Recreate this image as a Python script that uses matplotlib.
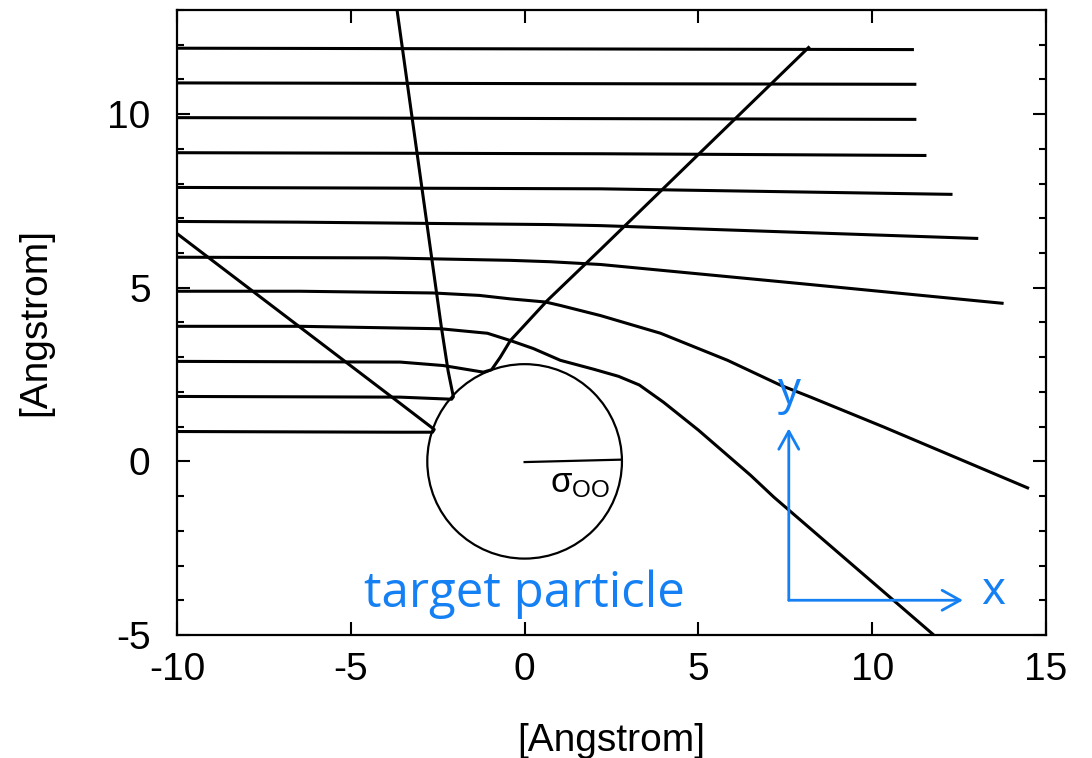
import matplotlib
matplotlib.use("Agg")
import matplotlib.pyplot as plt
from matplotlib.patches import Circle
from matplotlib.ticker import MultipleLocator

plt.rcParams['font.family'] = ['Liberation Sans', 'DejaVu Sans']
plt.rcParams['mathtext.fontset'] = 'custom'
plt.rcParams['mathtext.rm'] = 'Liberation Sans'
plt.rcParams['mathtext.it'] = 'Liberation Sans'

# ---- data (Angstrom) ----
t1_x = [-10, 11.2]
t1_y = [11.9, 11.86]
t2_x = [-10, 11.27]
t2_y = [10.9, 10.86]
t3_x = [-10, 11.27]
t3_y = [9.9, 9.85]
t4_x = [-10, 2.19, 11.56]
t4_y = [8.89, 8.86, 8.81]
t5_x = [-10, 2.19, 12.31]
t5_y = [7.89, 7.85, 7.69]
t6_x = [-10, -6.5, 0.74, 2.19, 13.05]
t6_y = [6.91, 6.89, 6.82, 6.79, 6.42]
t7_x = [-10, -4, -0.41, 0.74, 2.19, 7.94, 13.78]
t7_y = [5.88, 5.86, 5.79, 5.75, 5.67, 5.12, 4.55]
t8_x = [-10, -6.46, -2.63, -1.3, -0.41, 0.6, 1.03, 2.18, 3.91, 5.84, 7.37, 8.23, 10.33, 14.51]
t8_y = [4.9, 4.9, 4.85, 4.78, 4.68, 4.59, 4.49, 4.2, 3.69, 2.91, 2.19, 1.85, 0.99, -0.78]
t9_x = [-10, -6.46, -2.43, -1.07, -0.41, 0.25, 1.03, 2.0, 2.7, 3.3, 4.0, 5.0, 6.5, 7.17, 11.77]
t9_y = [3.89, 3.89, 3.82, 3.69, 3.48, 3.25, 2.91, 2.65, 2.45, 2.2, 1.7, 0.9, -0.4, -1.03, -5.0]
t10_x = [-10, -3.58, -2.34, -1.19, -0.95, -0.70, -0.41, 0.66, 2.18, 8.2]
t10_y = [2.88, 2.86, 2.76, 2.57, 2.64, 3.0, 3.48, 4.64, 6.1, 11.95]
t11_x = [-10, -3.58, -2.1, -2.05, -2.2, -2.4, -3.67]
t11_y = [1.87, 1.85, 1.79, 1.86, 2.6, 3.9, 13.0]
t12_x = [-10, -3.58, -2.65, -2.6, -3.58, -10]
t12_y = [0.86, 0.84, 0.84, 0.92, 1.67, 6.56]

traj_x = [t1_x, t2_x, t3_x, t4_x, t5_x, t6_x, t7_x, t8_x, t9_x, t10_x, t11_x, t12_x]
traj_y = [t1_y, t2_y, t3_y, t4_y, t5_y, t6_y, t7_y, t8_y, t9_y, t10_y, t11_y, t12_y]

sigma_oo = 2.8
sigma_line_x = [0.0, 2.79]
sigma_line_y = [-0.02, 0.05]

x_ticks = [-10, -5, 0, 5, 10, 15]
y_ticks = [-5, 0, 5, 10]

blue = '#1580F3'

fig = plt.figure(figsize=(10.92, 7.58), dpi=100)
ax = fig.add_axes([0.1621, 0.1623, 0.9579 - 0.1621, 0.9868 - 0.1623])

for xs, ys in zip(traj_x, traj_y):
    ax.plot(xs, ys, color='black', lw=2.2, solid_joinstyle='round', solid_capstyle='butt')

ax.add_patch(Circle((0, 0), sigma_oo, fill=False, edgecolor='black', lw=1.6))
ax.plot(sigma_line_x, sigma_line_y, color='black', lw=1.6)
ax.text(0.74, -0.89, r'$\sigma_{\rm OO}$', fontsize=25, ha='left', va='baseline')

ax.text(0.0, -4.2, 'target particle', color=blue, fontsize=35.5,
        family=['Open Sans', 'DejaVu Sans'], ha='center', va='baseline')

# coordinate axes arrows
ax.annotate('', xy=(7.6, 0.95), xytext=(7.6, -4.0),
            arrowprops=dict(arrowstyle='->,head_length=0.72,head_width=0.4',
                            color=blue, lw=2, mutation_scale=18,
                            shrinkA=0, shrinkB=0))
ax.annotate('', xy=(12.61, -4.0), xytext=(7.6, -4.0),
            arrowprops=dict(arrowstyle='->,head_length=0.72,head_width=0.4',
                            color=blue, lw=2, mutation_scale=18,
                            shrinkA=0, shrinkB=0))
ax.text(7.63, 1.99, 'y', color=blue, fontsize=33, family=['Open Sans', 'DejaVu Sans'],
        ha='center', va='center')
ax.text(13.47, -3.75, 'x', color=blue, fontsize=33, family=['Open Sans', 'DejaVu Sans'],
        ha='center', va='center')

ax.set_xlim(-10, 15)
ax.set_ylim(-5, 13)
ax.set_xticks(x_ticks)
ax.set_xticklabels([str(v) for v in x_ticks])
ax.set_yticks(y_ticks)
ax.set_yticklabels([str(v) for v in y_ticks])
ax.yaxis.set_minor_locator(MultipleLocator(1))

ax.tick_params(axis='both', which='major', direction='in', top=True, right=True,
               length=9.5, width=1.5, labelsize=28)
ax.tick_params(axis='x', which='major', pad=12.5)
ax.tick_params(axis='y', which='major', pad=19)
ax.tick_params(axis='y', which='minor', direction='in', left=True, right=True,
               length=5, width=1.5)
for s in ax.spines.values():
    s.set_linewidth(1.6)

ax.set_xlabel('[Angstrom]', fontsize=28, labelpad=25)
ax.set_ylabel('[Angstrom]', fontsize=28, labelpad=39)

fig.savefig('out.png', dpi=100)
